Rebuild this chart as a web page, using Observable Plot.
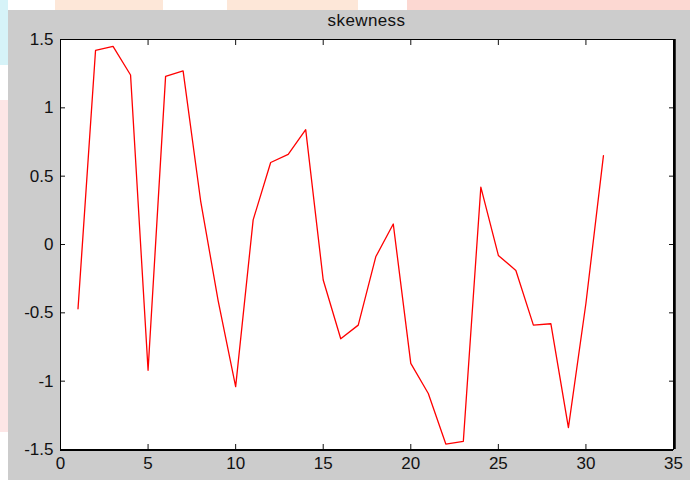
<!DOCTYPE html>
<html><head><meta charset="utf-8">
<script src="https://cdn.jsdelivr.net/npm/d3@7"></script>
<script src="https://cdn.jsdelivr.net/npm/@observablehq/plot@0.6"></script>
<style>
body{margin:0;background:#fff;}
#wrap{position:relative;width:690px;height:480px;overflow:hidden;font-family:"Liberation Sans",Arial,sans-serif;}
.wm{position:absolute;}
#fig{position:absolute;left:8px;top:10px;right:0;bottom:0;background:#cccccc;}
#title{position:absolute;top:11px;left:60px;width:613px;text-align:center;font-size:17px;letter-spacing:0.4px;color:#111;}
#chart{position:absolute;left:0;top:0;}
</style></head><body>
<div id="wrap">
  <div class="wm" style="left:0;top:0;width:8px;height:65px;background:#d6f3f8"></div>
  <div class="wm" style="left:0;top:100px;width:8px;height:332px;background:#fde6e6"></div>
  <div class="wm" style="left:55px;top:0;width:108px;height:10px;background:#fde7d8"></div>
  <div class="wm" style="left:227px;top:0;width:131px;height:10px;background:#fde7d8"></div>
  <div class="wm" style="left:407px;top:0;width:283px;height:10px;background:#fcd8d2"></div>
  <div id="fig"></div>
  <div id="chart"></div>
  <div id="title">skewness</div>
</div>
<script>
const obs = [1,2,3,4,5,6,7,8,9,10,11,12,13,14,15,16,17,18,19,20,21,22,23,24,25,26,27,28,29,30,31];
const skew = [-0.47,1.42,1.45,1.24,-0.92,1.23,1.27,0.32,-0.41,-1.04,0.18,0.60,0.66,0.84,-0.26,-0.69,-0.59,-0.09,0.15,-0.87,-1.09,-1.46,-1.44,0.42,-0.08,-0.19,-0.59,-0.58,-1.34,-0.43,0.65];
const xTicks = [0,5,10,15,20,25,30,35];
const yTicks = [-1.5,-1,-0.5,0,0.5,1,1.5];
const xDomain = [0,35];
const yDomain = [-1.5,1.5];

const rows = obs.map((o,i)=>({obs:o, skew:skew[i]}));

const chart = Plot.plot({
  width:690, height:480,
  marginLeft:60, marginRight:17, marginTop:39, marginBottom:31,
  style:{background:"transparent", fontFamily:"'Liberation Sans', Arial, sans-serif", fontSize:"17px", color:"#111", overflow:"visible"},
  x:{domain:xDomain, label:null},
  y:{domain:yDomain, label:null},
  marks:[
    Plot.frame({fill:"#ffffff", stroke:null}),
    Plot.axisX(xTicks, {anchor:"bottom", tickSize:-5, tickPadding:12, label:null, tickFormat:d=>String(d)}),
    Plot.axisX(xTicks, {anchor:"top", tickSize:-5, label:null, tickFormat:()=>""}),
    Plot.axisY(yTicks, {anchor:"left", tickSize:-5, tickPadding:12, label:null, tickFormat:d=>String(d)}),
    Plot.axisY(yTicks, {anchor:"right", tickSize:-5, label:null, tickFormat:()=>""}),
    Plot.line(rows, {x:"obs", y:"skew", stroke:"#ff0000", strokeWidth:1.3}),
    Plot.frame({stroke:"#000", strokeWidth:1}),
    Plot.ruleX([xDomain[1]], {stroke:"#000", strokeWidth:2.5, dx:1}),
    Plot.ruleY([yDomain[0]], {stroke:"#000", strokeWidth:2, dy:0.5})
  ]
});
document.getElementById("chart").appendChild(chart);
</script>
</body></html>
